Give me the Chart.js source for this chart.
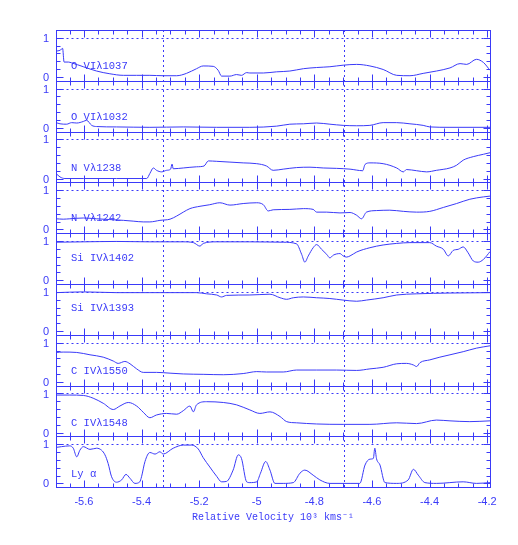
<!DOCTYPE html>
<html>
<head>
<meta charset="utf-8">
<script src="https://cdn.jsdelivr.net/npm/chart.js@4.4.1/dist/chart.umd.min.js"></script>
<style>
  html, body { margin: 0; padding: 0; background: #fff; }
</style>
</head>
<body>
<canvas id="spectra" width="518" height="545"></canvas>
<script>
/* Normalised flux vs relative velocity (10^3 km/s), one panel per ion line */

const ionNames = ['O VIλ1037', 'O VIλ1032', 'N Vλ1238', 'N Vλ1242', 'Si IVλ1402',
  'Si IVλ1393', 'C IVλ1550', 'C IVλ1548', 'Ly α'];

const xTickValues = [-5.6, -5.4, -5.2, -5.0, -4.8, -4.6, -4.4, -4.2];
const markerVelocities = [-5.326, -4.697];

const velOVI1037 = [-5.697, -5.683, -5.674, -5.669, -5.654, -5.643, -5.602, -5.556, -5.510, -5.463, -5.417, -5.371, -5.325, -5.278, -5.244, -5.209, -5.186, -5.151, -5.134, -5.122, -5.093, -5.070, -5.053, -5.035, -5.024, -4.977, -4.931, -4.885, -4.838, -4.792, -4.746, -4.700, -4.653, -4.607, -4.561, -4.514, -4.468, -4.422, -4.376, -4.329, -4.294, -4.271, -4.237, -4.213, -4.190];
const fluxOVI1037 = [0.66, 0.68, 0.73, 0.38, 0.38, 0.36, 0.26, 0.15, 0.08, 0.04, 0.04, 0.04, 0.03, 0.03, 0.09, 0.21, 0.28, 0.27, 0.17, 0.02, 0.02, 0.06, 0.04, 0.11, 0.10, 0.10, 0.13, 0.15, 0.21, 0.24, 0.26, 0.30, 0.32, 0.28, 0.19, 0.04, 0.03, 0.09, 0.15, 0.23, 0.34, 0.32, 0.45, 0.37, 0.17];

const velOVI1032 = [-5.697, -5.683, -5.660, -5.643, -5.625, -5.602, -5.591, -5.573, -5.556, -5.487, -5.371, -5.255, -5.139, -5.024, -4.931, -4.885, -4.838, -4.792, -4.746, -4.700, -4.653, -4.607, -4.561, -4.514, -4.468, -4.422, -4.399, -4.329, -4.190];
const fluxOVI1032 = [0.13, 0.10, 0.09, 0.13, 0.12, 0.16, 0.19, 0.06, 0.03, 0.02, 0.01, 0.02, 0.01, 0.01, 0.04, 0.09, 0.10, 0.12, 0.09, 0.06, 0.05, 0.06, 0.13, 0.13, 0.10, 0.06, 0.02, 0.01, 0.01];

const velNV1238 = [-5.697, -5.683, -5.666, -5.602, -5.487, -5.382, -5.371, -5.359, -5.348, -5.330, -5.313, -5.299, -5.294, -5.290, -5.255, -5.209, -5.183, -5.168, -5.139, -5.093, -5.047, -5.000, -4.966, -4.943, -4.908, -4.862, -4.815, -4.769, -4.723, -4.676, -4.632, -4.624, -4.607, -4.561, -4.514, -4.491, -4.480, -4.445, -4.410, -4.376, -4.329, -4.306, -4.283, -4.248, -4.213, -4.190];
const fluxNV1238 = [0.13, 0.04, 0, 0, 0, 0, 0.13, 0.27, 0.21, 0.17, 0.21, 0.24, 0.37, 0.25, 0.27, 0.30, 0.32, 0.45, 0.44, 0.42, 0.40, 0.38, 0.32, 0.21, 0.24, 0.28, 0.29, 0.27, 0.26, 0.24, 0.20, 0.36, 0.40, 0.38, 0.27, 0.17, 0.23, 0.20, 0.17, 0.21, 0.27, 0.34, 0.47, 0.56, 0.62, 0.66];

const velNV1242 = [-5.697, -5.672, -5.649, -5.602, -5.556, -5.510, -5.463, -5.429, -5.394, -5.371, -5.336, -5.301, -5.278, -5.255, -5.232, -5.197, -5.163, -5.128, -5.093, -5.047, -5.000, -4.977, -4.960, -4.943, -4.885, -4.838, -4.804, -4.792, -4.757, -4.711, -4.676, -4.653, -4.636, -4.619, -4.584, -4.538, -4.491, -4.445, -4.399, -4.352, -4.306, -4.260, -4.213, -4.190];
const fluxNV1242 = [0.27, 0.26, 0.27, 0.29, 0.27, 0.25, 0.23, 0.21, 0.19, 0.19, 0.23, 0.26, 0.34, 0.44, 0.53, 0.59, 0.63, 0.68, 0.62, 0.66, 0.68, 0.63, 0.47, 0.50, 0.51, 0.53, 0.51, 0.44, 0.44, 0.42, 0.43, 0.36, 0.27, 0.44, 0.48, 0.49, 0.46, 0.44, 0.46, 0.56, 0.66, 0.77, 0.83, 0.85];

const velSiIV1402 = [-5.697, -5.602, -5.487, -5.371, -5.255, -5.220, -5.197, -5.186, -5.139, -5.024, -4.908, -4.862, -4.844, -4.833, -4.821, -4.804, -4.792, -4.775, -4.757, -4.746, -4.734, -4.711, -4.700, -4.688, -4.676, -4.653, -4.607, -4.561, -4.514, -4.468, -4.399, -4.376, -4.352, -4.335, -4.318, -4.300, -4.283, -4.266, -4.248, -4.231, -4.213, -4.190];
const fluxSiIV1402 = [0.97, 0.98, 0.99, 0.98, 0.98, 0.96, 0.87, 0.94, 0.98, 0.98, 0.97, 0.93, 0.66, 0.46, 0.62, 0.83, 0.91, 0.79, 0.66, 0.57, 0.64, 0.68, 0.62, 0.59, 0.62, 0.72, 0.83, 0.90, 0.94, 0.96, 0.96, 0.87, 0.79, 0.62, 0.76, 0.79, 0.85, 0.70, 0.49, 0.46, 0.53, 0.73];

const velSiIV1393 = [-5.697, -5.602, -5.487, -5.371, -5.209, -5.174, -5.139, -5.122, -5.105, -5.024, -4.954, -4.919, -4.896, -4.873, -4.838, -4.792, -4.746, -4.700, -4.653, -4.619, -4.561, -4.514, -4.445, -4.329, -4.190];
const fluxSiIV1393 = [0.98, 1.0, 0.98, 0.98, 0.98, 0.95, 0.92, 0.87, 0.91, 0.92, 0.94, 0.85, 0.81, 0.85, 0.87, 0.85, 0.83, 0.79, 0.76, 0.79, 0.85, 0.92, 0.95, 0.97, 0.98];

const velCIV1550 = [-5.697, -5.672, -5.625, -5.579, -5.533, -5.498, -5.481, -5.458, -5.440, -5.417, -5.394, -5.348, -5.301, -5.255, -5.186, -5.116, -5.047, -5.000, -4.966, -4.908, -4.862, -4.792, -4.723, -4.653, -4.607, -4.561, -4.514, -4.480, -4.456, -4.445, -4.433, -4.399, -4.364, -4.329, -4.283, -4.237, -4.190];
const fluxCIV1550 = [0.75, 0.76, 0.75, 0.69, 0.63, 0.53, 0.47, 0.52, 0.46, 0.33, 0.24, 0.24, 0.22, 0.20, 0.19, 0.18, 0.21, 0.26, 0.25, 0.25, 0.30, 0.30, 0.30, 0.29, 0.33, 0.37, 0.46, 0.47, 0.43, 0.39, 0.49, 0.56, 0.63, 0.69, 0.77, 0.86, 0.92];

const velCIV1548 = [-5.697, -5.649, -5.602, -5.568, -5.533, -5.498, -5.475, -5.446, -5.417, -5.394, -5.371, -5.348, -5.313, -5.278, -5.255, -5.232, -5.220, -5.209, -5.174, -5.116, -5.070, -5.024, -4.989, -4.954, -4.919, -4.896, -4.862, -4.792, -4.700, -4.607, -4.514, -4.445, -4.376, -4.329, -4.260, -4.190];
const fluxCIV1548 = [0.96, 0.96, 0.95, 0.88, 0.75, 0.59, 0.68, 0.77, 0.68, 0.52, 0.38, 0.45, 0.49, 0.47, 0.56, 0.68, 0.53, 0.71, 0.79, 0.77, 0.71, 0.58, 0.49, 0.53, 0.41, 0.28, 0.25, 0.22, 0.21, 0.21, 0.25, 0.23, 0.32, 0.30, 0.28, 0.30];

const velLyA = [-5.697, -5.678, -5.649, -5.637, -5.625, -5.614, -5.602, -5.579, -5.556, -5.539, -5.527, -5.516, -5.504, -5.487, -5.469, -5.454, -5.440, -5.423, -5.406, -5.400, -5.388, -5.371, -5.353, -5.336, -5.325, -5.290, -5.255, -5.226, -5.203, -5.186, -5.163, -5.139, -5.122, -5.105, -5.082, -5.064, -5.053, -5.035, -5.024, -5.000, -4.987, -4.969, -4.954, -4.937, -4.908, -4.873, -4.850, -4.833, -4.804, -4.781, -4.746, -4.676, -4.642, -4.624, -4.607, -4.595, -4.590, -4.584, -4.572, -4.555, -4.514, -4.474, -4.456, -4.439, -4.416, -4.376, -4.283, -4.237, -4.190];
const fluxLyA = [0.92, 0.94, 0.96, 0.90, 0.68, 0.85, 0.94, 0.87, 0.90, 0.85, 0.73, 0.51, 0.17, 0.03, 0.09, 0.23, 0.13, 0, 0.04, 0.17, 0.56, 0.79, 0.75, 0.81, 0.75, 0.90, 0.98, 0.98, 0.88, 0.66, 0.42, 0.18, 0.04, 0.05, 0.34, 0.73, 0.64, 0.04, 0.02, 0.04, 0.26, 0.56, 0.34, 0, 0, 0.02, 0.26, 0.34, 0.21, 0.09, 0, 0, 0, 0.47, 0.62, 0.64, 0.90, 0.63, 0.47, 0.02, 0, 0.09, 0.36, 0.21, 0.02, 0, 0.04, 0, 0.02];

const velocities = [velOVI1037, velOVI1032, velNV1238, velNV1242, velSiIV1402, velSiIV1393, velCIV1550, velCIV1548, velLyA];
const fluxes = [fluxOVI1037, fluxOVI1032, fluxNV1238, fluxNV1242, fluxSiIV1402, fluxSiIV1393, fluxCIV1550, fluxCIV1548, fluxLyA];

// panel layout / styling
const BLUE = '#3a3af8';
const Y_LO = -0.1, Y_HI = 1.2;
const N = ionNames.length;
const labelLevel = [0.28, 0.27, 0.27, 0.29, 0.57, 0.57, 0.26, 0.25, 0.24];

const scales = {
  x: {
    type: 'linear', position: 'bottom', min: -5.697, max: -4.19,
    afterBuildTicks: axis => { axis.ticks = xTickValues.map(v => ({ value: v })); },
    ticks: {
      autoSkip: false, maxRotation: 0, padding: 8.5, color: BLUE,
      font: { family: '"Liberation Sans", Arial, sans-serif', size: 11 },
      callback: v => String(Math.round(v * 10) / 10)
    },
    grid: { display: false, drawTicks: false },
    border: { display: false },
    title: {
      display: true, text: 'Relative Velocity 10³ kms⁻¹', color: BLUE,
      font: { family: '"Liberation Mono", monospace', size: 10 },
      padding: { top: -6.5, bottom: 4 }
    }
  }
};
// every panel gets its own hidden y scale, shifted so it lands in its band
for (let i = 0; i < N; i++) {
  const span = Y_HI - Y_LO;
  scales['y' + i] = {
    type: 'linear', display: false,
    min: Y_LO - (N - 1 - i) * span,
    max: Y_HI + i * span
  };
}

function seg(ctx, x1, y1, x2, y2) {
  ctx.beginPath(); ctx.moveTo(x1, y1); ctx.lineTo(x2, y2); ctx.stroke();
}

const panelFrames = {
  id: 'panelFrames',
  afterDatasetsDraw(chart) {
    const { ctx, chartArea: a } = chart;
    const xs = chart.scales.x;
    const L = Math.round(a.left) + 0.5, R = Math.round(a.right) + 0.5;
    ctx.save();
    ctx.strokeStyle = BLUE;
    ctx.fillStyle = BLUE;
    ctx.lineWidth = 1;

    // dotted velocity markers through every panel
    ctx.setLineDash([2, 3]);
    markerVelocities.forEach(v => {
      const px = Math.round(xs.getPixelForValue(v)) + 0.5;
      seg(ctx, px, a.top, px, a.bottom);
    });

    for (let i = 0; i < N; i++) {
      const ys = chart.scales['y' + i];
      const top = Math.round(ys.getPixelForValue(Y_HI)) + 0.5;
      const bot = Math.round(ys.getPixelForValue(Y_LO)) + 0.5;
      const one = Math.round(ys.getPixelForValue(1)) + 0.5;

      // continuum level
      ctx.setLineDash([2, 3]);
      seg(ctx, L, one, R, one);
      ctx.setLineDash([]);

      // frame
      ctx.strokeRect(L, top, R - L, bot - top);

      // x ticks, minor every 0.05, major every 0.2
      const k0 = Math.ceil(xs.min / 0.05), k1 = Math.floor(xs.max / 0.05);
      for (let k = k0; k <= k1; k++) {
        const px = Math.round(xs.getPixelForValue(k * 0.05)) + 0.5;
        const len = (k % 4 === 0) ? 7 : 4;
        seg(ctx, px, top, px, top + len);
        seg(ctx, px, bot, px, bot - len);
      }

      // y ticks every 0.2
      for (let t = 0; t <= 5; t++) {
        const py = Math.round(ys.getPixelForValue(t * 0.2)) + 0.5;
        const len = (t === 0 || t === 5) ? 7 : 4;
        seg(ctx, L, py, L + len, py);
        seg(ctx, R, py, R - len, py);
      }

      // tick labels
      ctx.font = '11px "Liberation Sans", Arial, sans-serif';
      ctx.textAlign = 'right';
      ctx.textBaseline = 'middle';
      ctx.fillText('1', a.left - 7, ys.getPixelForValue(1) + 1);
      ctx.fillText('0', a.left - 7, ys.getPixelForValue(0) + 1);

      // ion label
      ctx.font = '10.5px "Liberation Mono", monospace';
      ctx.textAlign = 'left';
      ctx.fillText(ionNames[i], a.left + 15, ys.getPixelForValue(labelLevel[i]));
    }
    ctx.restore();
  }
};

new Chart(document.getElementById('spectra'), {
  type: 'line',
  data: {
    datasets: ionNames.map((name, i) => ({
      label: name,
      data: velocities[i].map((v, k) => ({ x: v, y: fluxes[i][k] })),
      yAxisID: 'y' + i,
      borderColor: BLUE,
      borderWidth: 1,
      pointRadius: 0,
      cubicInterpolationMode: 'monotone',
      fill: false
    }))
  },
  options: {
    responsive: false,
    animation: false,
    layout: { padding: { left: 56, right: 28, top: 30, bottom: 18 } },
    plugins: { legend: { display: false }, tooltip: { enabled: false } },
    scales
  },
  plugins: [panelFrames]
});
</script>
</body>
</html>
